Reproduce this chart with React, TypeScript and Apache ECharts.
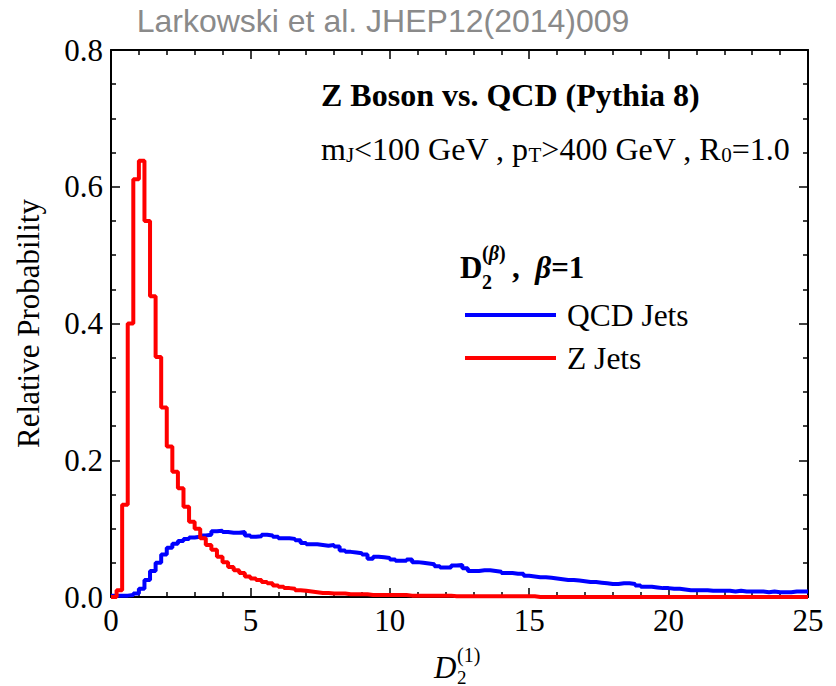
import React, { useEffect, useRef } from "react";
import * as echarts from "echarts";

// Histogram bins: width 0.2 over 0..25 (125 bins)
const binWidth = 0.2;
const binCount = 125;
const binEdges: number[] = Array.from({ length: binCount + 1 }, (_, i) => +(i * binWidth).toFixed(1));

const qcdJets: number[] = [
  0.002, 0.002, 0.002, 0.003, 0.005, 0.012, 0.025, 0.038, 0.05, 0.062,
  0.072, 0.078, 0.082, 0.085, 0.087, 0.088, 0.09, 0.091, 0.096, 0.097,
  0.095, 0.094, 0.094, 0.095, 0.09, 0.088, 0.089, 0.091, 0.09, 0.088,
  0.086, 0.086, 0.085, 0.083, 0.079, 0.077, 0.077, 0.076, 0.075, 0.076,
  0.074, 0.068, 0.066, 0.065, 0.064, 0.062, 0.056, 0.059, 0.058, 0.057,
  0.055, 0.053, 0.053, 0.055, 0.051, 0.05, 0.049, 0.048, 0.045, 0.043,
  0.043, 0.046, 0.047, 0.042, 0.038, 0.038, 0.039, 0.039, 0.038, 0.037,
  0.035, 0.035, 0.034, 0.034, 0.031, 0.03, 0.029, 0.029, 0.028, 0.027,
  0.026, 0.025, 0.025, 0.024, 0.023, 0.022, 0.022, 0.021, 0.02, 0.019,
  0.019, 0.02, 0.02, 0.019, 0.017, 0.015, 0.015, 0.014, 0.013, 0.013,
  0.012, 0.012, 0.011, 0.01, 0.01, 0.01, 0.01, 0.009, 0.009, 0.009,
  0.009, 0.008, 0.009, 0.008, 0.008, 0.008, 0.008, 0.007, 0.008, 0.007,
  0.007, 0.007, 0.008, 0.008, 0.008,
];

const zJets: number[] = [
  0, 0.01, 0.135, 0.4, 0.611, 0.638, 0.55, 0.44, 0.351, 0.277,
  0.22, 0.183, 0.159, 0.132, 0.11, 0.1, 0.086, 0.076, 0.069, 0.059,
  0.051, 0.044, 0.039, 0.035, 0.03, 0.027, 0.025, 0.022, 0.02, 0.017,
  0.015, 0.013, 0.012, 0.01, 0.009, 0.008, 0.007, 0.006, 0.006, 0.005,
  0.005, 0.005, 0.004, 0.004, 0.004, 0.004, 0.003, 0.003, 0.003, 0.003,
  0.003, 0.003, 0.003, 0.002, 0.002, 0.002, 0.002, 0.002, 0.002, 0.002,
  0.002, 0.001, 0.001, 0.001, 0.001, 0.001, 0.001, 0.001, 0.001, 0.001,
  0.001, 0.001, 0.001, 0.001, 0.001, 0.001, 0, 0, 0, 0,
  0, 0, 0, 0, 0, 0, 0, 0, 0, 0,
  0, 0, 0, 0, 0, 0, 0, 0, 0, 0,
  0, 0, 0, 0, 0, 0, 0, 0, 0, 0,
  0, 0, 0, 0, 0, 0, 0, 0, 0, 0,
  0, 0, 0, 0, 0,
];

const seriesNames = ["QCD Jets", "Z Jets"];
const xTicks = { min: 0, max: 25, interval: 5 };
const yTicks = { min: 0, max: 0.8, interval: 0.2 };

const SERIF = "'Liberation Serif', 'Times New Roman', serif";

function histPoints(values: number[]): [number, number][] {
  const pts: [number, number][] = values.map((v, i) => [binEdges[i], v]);
  pts.push([binEdges[values.length], values[values.length - 1]]);
  return pts;
}

export default function App() {
  const ref = useRef<HTMLDivElement>(null);
  useEffect(() => {
    if (!ref.current) return;
    const chart = echarts.init(ref.current, null, { renderer: "svg" });

    const axisCommon = {
      axisLine: { show: true, onZero: false, lineStyle: { color: "#000", width: 2 } },
      axisTick: { show: true, inside: true, length: 9, lineStyle: { color: "#000", width: 1.5 } },
      minorTick: { show: true, length: 5, lineStyle: { color: "#000", width: 1.5 } },
      splitLine: { show: false },
    };
    const labelStyle = { color: "#000", fontSize: 31, fontFamily: SERIF };

    const option: any = {
      animation: false,
      backgroundColor: "#fff",
      grid: { left: 111, right: 28, top: 50, bottom: 89, containLabel: false },
      xAxis: [
        {
          type: "value", position: "bottom", ...xTicks, ...axisCommon,
          minorTick: { ...axisCommon.minorTick, splitNumber: 5 },
          axisLabel: { ...labelStyle, margin: 8 },
        },
        {
          type: "value", position: "top", ...xTicks, ...axisCommon,
          minorTick: { ...axisCommon.minorTick, splitNumber: 5 },
          axisLabel: { show: false },
        },
      ],
      yAxis: [
        {
          type: "value", position: "left", ...yTicks, ...axisCommon,
          minorTick: { ...axisCommon.minorTick, splitNumber: 4 },
          axisLabel: { ...labelStyle, margin: 8, formatter: (v: number) => v.toFixed(1) },
          name: "Relative Probability",
          nameLocation: "middle",
          nameGap: 67,
          nameTextStyle: { color: "#000", fontSize: 31, fontFamily: SERIF },
        },
        {
          type: "value", position: "right", ...yTicks, ...axisCommon,
          minorTick: { ...axisCommon.minorTick, splitNumber: 4 },
          axisLabel: { show: false },
        },
      ],
      legend: {
        show: true,
        orient: "vertical",
        left: 460,
        top: 294,
        itemWidth: 91,
        itemHeight: 4,
        itemGap: 11,
        icon: "rect",
        data: seriesNames,
        textStyle: { color: "#000", fontSize: 31.5, fontFamily: SERIF, padding: [0, 0, 0, 6] },
      },
      series: [
        {
          name: seriesNames[0],
          type: "line",
          step: "end",
          showSymbol: false,
          symbol: "none",
          xAxisIndex: 0,
          yAxisIndex: 0,
          data: histPoints(qcdJets),
          itemStyle: { color: "#0000ff" },
          lineStyle: { color: "#0000ff", width: 4 },
        },
        {
          name: seriesNames[1],
          type: "line",
          step: "end",
          showSymbol: false,
          symbol: "none",
          xAxisIndex: 0,
          yAxisIndex: 0,
          data: histPoints(zJets),
          itemStyle: { color: "#ff0000" },
          lineStyle: { color: "#ff0000", width: 4 },
        },
      ],
      graphic: [
        {
          type: "text", x: 383, y: 21,
          style: {
            text: "Larkowski et al. JHEP12(2014)009",
            fill: "#8a8a8a", fontSize: 32, fontFamily: "'Liberation Sans', Arial, sans-serif",
            align: "center", verticalAlign: "middle",
          },
        },
        {
          type: "text", x: 321, y: 94.5,
          style: {
            text: "Z Boson vs. QCD (Pythia 8)",
            fill: "#000", fontSize: 32, fontWeight: "bold", fontFamily: SERIF,
            align: "left", verticalAlign: "middle",
          },
        },
        {
          type: "text", x: 321, y: 133,
          style: {
            text: "{n|m}{s|J}{n|<100 GeV , p}{s|T}{n|>400 GeV , R}{s|0}{n|=1.0}",
            fill: "#000", align: "left", verticalAlign: "top",
            rich: {
              n: { fontSize: 32, fontFamily: SERIF, lineHeight: 32, fill: "#000" },
              s: { fontSize: 21, fontFamily: SERIF, lineHeight: 14, verticalAlign: "bottom", fill: "#000" },
            },
          },
        },
        // legend title D_2^(beta), beta=1
        {
          type: "text", x: 460, y: 267.5,
          style: { text: "D", fill: "#000", fontSize: 31, fontWeight: "bold", fontFamily: SERIF, align: "left", verticalAlign: "middle" },
        },
        {
          type: "text", x: 482, y: 253,
          style: {
            text: "{p|(}{i|β}{p|)}",
            align: "left", verticalAlign: "middle",
            rich: {
              p: { fontSize: 20, fontWeight: "bold", fontFamily: SERIF, fill: "#000" },
              i: { fontSize: 20, fontWeight: "bold", fontStyle: "italic", fontFamily: SERIF, fill: "#000" },
            },
          },
        },
        {
          type: "text", x: 482, y: 282,
          style: { text: "2", fill: "#000", fontSize: 20, fontWeight: "bold", fontFamily: SERIF, align: "left", verticalAlign: "middle" },
        },
        {
          type: "text", x: 512, y: 267.5,
          style: {
            text: "{b|,  }{bi|β}{b|=1}",
            align: "left", verticalAlign: "middle",
            rich: {
              b: { fontSize: 31, fontWeight: "bold", fontFamily: SERIF, fill: "#000" },
              bi: { fontSize: 31, fontWeight: "bold", fontStyle: "italic", fontFamily: SERIF, fill: "#000" },
            },
          },
        },
        // x axis name D_2^(1)
        {
          type: "text", x: 434, y: 667,
          style: { text: "D", fill: "#000", fontSize: 31, fontStyle: "italic", fontFamily: SERIF, align: "left", verticalAlign: "middle" },
        },
        {
          type: "text", x: 457, y: 655,
          style: { text: "(1)", fill: "#000", fontSize: 20, fontFamily: SERIF, align: "left", verticalAlign: "middle" },
        },
        {
          type: "text", x: 457, y: 677,
          style: { text: "2", fill: "#000", fontSize: 19, fontFamily: SERIF, align: "left", verticalAlign: "middle" },
        },
      ],
    };

    chart.setOption(option);
    return () => chart.dispose();
  }, []);

  return (
    <div
      ref={ref}
      style={{ position: "absolute", left: 0, top: 0, width: 836, height: 686, background: "#fff" }}
    />
  );
}
